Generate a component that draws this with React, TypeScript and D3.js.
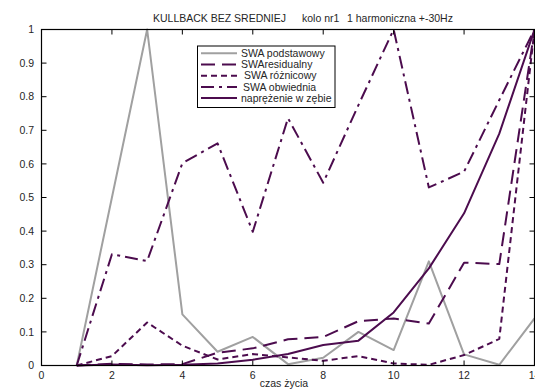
import React from 'react';
import * as d3 from 'd3';

// time steps and normalised values
const czas = [1, 2, 3, 4, 5, 6, 7, 8, 9, 10, 11, 12, 13, 14];
const podstawowy = [0, 0.5, 1, 0.152, 0.041, 0.085, 0.004, 0.023, 0.1, 0.046, 0.31, 0.033, 0.002, 0.14];
const residualny = [0, 0.005, 0.003, 0.004, 0.038, 0.051, 0.078, 0.085, 0.132, 0.14, 0.125, 0.306, 0.302, 1];
const roznicowy = [0, 0.028, 0.128, 0.059, 0.018, 0.034, 0.024, 0.014, 0.028, 0.006, 0.002, 0.031, 0.079, 1];
const obwiednia = [0, 0.331, 0.311, 0.602, 0.661, 0.398, 0.736, 0.544, 0.775, 1, 0.53, 0.577, 0.79, 1];
const naprezenie = [0, 0.003, 0.001, 0.002, 0.006, 0.017, 0.034, 0.061, 0.074, 0.158, 0.289, 0.453, 0.69, 1];

const xTicks = [0, 2, 4, 6, 8, 10, 12, 14];
const yTicks = [0, 0.1, 0.2, 0.3, 0.4, 0.5, 0.6, 0.7, 0.8, 0.9, 1];
const legendLabels = ['SWA podstawowy', 'SWAresidualny', 'SWA różnicowy', 'SWA obwiednia', 'naprężenie w zębie'];

const W = 535;
const H = 392;
const purple = '#4c0c4e';
const grey = '#a0a0a0';
const txt = '#262626';
const font = 'Arial, "Liberation Sans", Helvetica, sans-serif';

export default function App() {
  const x = d3.scaleLinear().domain([0, 14]).range([41.5, 534.5]);
  const y = d3.scaleLinear().domain([0, 1]).range([365.5, 29.5]);

  const line = d3.line<number>()
    .x((d, i) => x(czas[i]))
    .y(d => y(d));

  // one entry per series: values, colour, dash
  const series = [
    { data: podstawowy, color: grey, dash: undefined },
    { data: residualny, color: purple, dash: '14,7' },
    { data: roznicowy, color: purple, dash: '6,4' },
    { data: obwiednia, color: purple, dash: '13,5,3,5' },
    { data: naprezenie, color: purple, dash: undefined },
  ];

  const [x0, x1] = x.range();
  const [y0, y1] = y.range();
  const tick = 5;

  // legend layout
  const lg = { left: 197.5, top: 46, width: 137.5, height: 61.5 };
  const rowY = (i: number) => 53.3 + i * 11.2;
  const textX = [241, 241, 244, 243, 241];

  return (
    <svg width={W} height={H} style={{ position: 'absolute', left: 0, top: 0, background: '#fff' }} fontFamily={font}>
      <rect x={0} y={0} width={W} height={H} fill="#fff" />

      {/* series */}
      {series.map((s, i) => (
        <path key={i} d={line(s.data) ?? ''} fill="none" stroke={s.color}
          strokeWidth={2} strokeDasharray={s.dash} strokeLinejoin="round" />
      ))}

      {/* axes box */}
      <rect x={x0} y={y1} width={x1 - x0} height={y0 - y1} fill="none" stroke="#000" strokeWidth={1.2} />

      {yTicks.map(t => (
        <g key={'y' + t}>
          <line x1={x0} x2={x0 + tick} y1={y(t)} y2={y(t)} stroke="#000" />
          <line x1={x1} x2={x1 - tick} y1={y(t)} y2={y(t)} stroke="#000" />
          <text x={34} y={y(t)} dy="0.35em" textAnchor="end" fontSize={10.5} fill={txt}>{t}</text>
        </g>
      ))}

      {xTicks.map(t => (
        <g key={'x' + t}>
          <line x1={x(t)} x2={x(t)} y1={y0} y2={y0 - tick} stroke="#000" />
          <line x1={x(t)} x2={x(t)} y1={y1} y2={y1 + tick} stroke="#000" />
          <text x={x(t)} y={379} textAnchor="middle" fontSize={10.5} fill={txt}>{t}</text>
        </g>
      ))}

      {/* title */}
      <text y={22} fontSize={10.5} fill={txt}>
        <tspan x={153}>KULLBACK BEZ SREDNIEJ</tspan>
        <tspan x={302}>kolo nr1</tspan>
        <tspan x={347}>1 harmoniczna +-30Hz</tspan>
      </text>

      <text x={284} y={387} textAnchor="middle" fontSize={10.5} fill={txt}>czas życia</text>

      {/* legend */}
      <rect x={lg.left} y={lg.top} width={lg.width} height={lg.height} fill="#fff" stroke="#000" strokeWidth={1} />
      {series.map((s, i) => (
        <g key={'lg' + i}>
          <line x1={201} x2={237} y1={rowY(i)} y2={rowY(i)} stroke={s.color} strokeWidth={2} strokeDasharray={s.dash} />
          <text x={textX[i]} y={rowY(i)} dy="0.35em" fontSize={10.5} fill={txt}>{legendLabels[i]}</text>
        </g>
      ))}
    </svg>
  );
}
